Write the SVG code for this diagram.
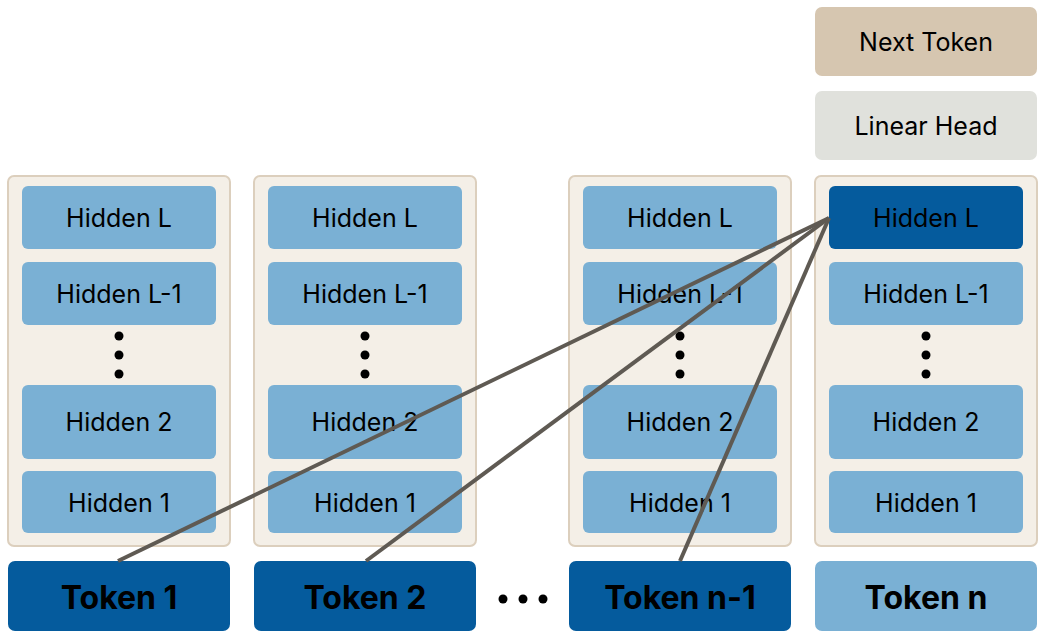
<svg xmlns="http://www.w3.org/2000/svg" width="1042" height="641" viewBox="0 0 1042 641">
<style>
.col{fill:#f4efe7;stroke:#dccfbd;stroke-width:2}
.h{fill:#7ab0d4}
.hd{fill:#055b9d}
.t{font-family:"Inter","Liberation Sans",sans-serif;font-size:25px;fill:#000;text-anchor:middle;dominant-baseline:central}
.tk{font-family:"Inter","Liberation Sans",sans-serif;font-size:32px;font-weight:bold;fill:#000;text-anchor:middle;dominant-baseline:central}
.ln{stroke:#5f5a53;stroke-width:4;fill:none}
</style>
<rect width="1042" height="641" fill="#fff"/>
<g id="next-token"><rect x="815" y="7" width="222" height="69" rx="7" fill="#d6c6b0"/><text class="t" x="926" y="42">Next Token</text></g>
<g id="linear-head"><rect x="815" y="91" width="222" height="69" rx="7" fill="#e0e1dc"/><text class="t" x="926" y="126">Linear Head</text></g>
<g id="col1"><rect class="col" x="8" y="176" width="222" height="370" rx="6"/>
<rect class="h" x="22" y="186" width="194" height="63" rx="6"/><text class="t" x="119" y="218">Hidden L</text>
<rect class="h" x="22" y="262" width="194" height="63" rx="6"/><text class="t" x="119" y="294">Hidden L-1</text>
<circle cx="119" cy="336" r="4.5"/><circle cx="119" cy="355" r="4.5"/><circle cx="119" cy="374" r="4.5"/>
<rect class="h" x="22" y="385" width="194" height="74" rx="6"/><text class="t" x="119" y="422">Hidden 2</text>
<rect class="h" x="22" y="471" width="194" height="62" rx="6"/><text class="t" x="119" y="503">Hidden 1</text></g>
<g id="col2"><rect class="col" x="254" y="176" width="222" height="370" rx="6"/>
<rect class="h" x="268" y="186" width="194" height="63" rx="6"/><text class="t" x="365" y="218">Hidden L</text>
<rect class="h" x="268" y="262" width="194" height="63" rx="6"/><text class="t" x="365" y="294">Hidden L-1</text>
<circle cx="365" cy="336" r="4.5"/><circle cx="365" cy="355" r="4.5"/><circle cx="365" cy="374" r="4.5"/>
<rect class="h" x="268" y="385" width="194" height="74" rx="6"/><text class="t" x="365" y="422">Hidden 2</text>
<rect class="h" x="268" y="471" width="194" height="62" rx="6"/><text class="t" x="365" y="503">Hidden 1</text></g>
<g id="col3"><rect class="col" x="569" y="176" width="222" height="370" rx="6"/>
<rect class="h" x="583" y="186" width="194" height="63" rx="6"/><text class="t" x="680" y="218">Hidden L</text>
<rect class="h" x="583" y="262" width="194" height="63" rx="6"/><text class="t" x="680" y="294">Hidden L-1</text>
<circle cx="680" cy="336" r="4.5"/><circle cx="680" cy="355" r="4.5"/><circle cx="680" cy="374" r="4.5"/>
<rect class="h" x="583" y="385" width="194" height="74" rx="6"/><text class="t" x="680" y="422">Hidden 2</text>
<rect class="h" x="583" y="471" width="194" height="62" rx="6"/><text class="t" x="680" y="503">Hidden 1</text></g>
<g id="col4"><rect class="col" x="815" y="176" width="222" height="370" rx="6"/>
<rect class="hd" x="829" y="186" width="194" height="63" rx="6"/><text class="t" x="926" y="218">Hidden L</text>
<rect class="h" x="829" y="262" width="194" height="63" rx="6"/><text class="t" x="926" y="294">Hidden L-1</text>
<circle cx="926" cy="336" r="4.5"/><circle cx="926" cy="355" r="4.5"/><circle cx="926" cy="374" r="4.5"/>
<rect class="h" x="829" y="385" width="194" height="74" rx="6"/><text class="t" x="926" y="422">Hidden 2</text>
<rect class="h" x="829" y="471" width="194" height="62" rx="6"/><text class="t" x="926" y="503">Hidden 1</text></g>
<g id="token1"><rect class="hd" x="8" y="561" width="222" height="70" rx="7"/><text class="tk" x="119" y="597">Token 1</text></g>
<g id="token2"><rect class="hd" x="254" y="561" width="222" height="70" rx="7"/><text class="tk" x="365" y="597">Token 2</text></g>
<g id="ellipsis"><circle cx="503" cy="599" r="4.5"/><circle cx="523" cy="599" r="4.5"/><circle cx="543" cy="599" r="4.5"/></g>
<g id="tokenn1"><rect class="hd" x="569" y="561" width="222" height="70" rx="7"/><text class="tk" x="680" y="597">Token n-1</text></g>
<g id="tokenn"><rect class="h" x="815" y="561" width="222" height="70" rx="7"/><text class="tk" x="926" y="597">Token n</text></g>
<g id="connectors">
<line class="ln" x1="118" y1="561" x2="829" y2="218"/>
<line class="ln" x1="366" y1="561" x2="829" y2="218"/>
<line class="ln" x1="680" y1="561" x2="829" y2="218"/>
</g>
</svg>
